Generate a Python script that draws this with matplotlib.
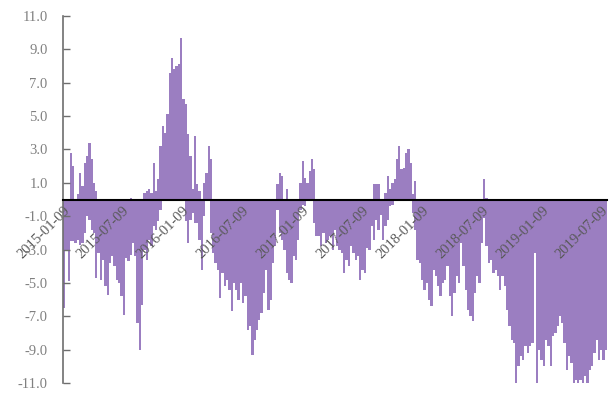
import numpy as np
import pandas as pd
import matplotlib
matplotlib.use("Agg")
import matplotlib.pyplot as plt
import matplotlib.dates as mdates

start_date = "2015-01-09"
tick_labels = ["2015-01-09", "2015-07-09", "2016-01-09", "2016-07-09", "2017-01-09",
               "2017-07-09", "2018-01-09", "2018-07-09", "2019-01-09", "2019-07-09"]
y_ticks = [-11, -9, -7, -5, -3, -1, 1, 3, 5, 7, 9, 11]

# weekly highest (positive) values
weekly_high = [
    0, 0, 0, 2.8, 2.0, 0, 0.3, 1.6, 0.8, 2.2,
    2.6, 3.4, 2.4, 1.0, 0.5, 0, 0, 0, 0, 0,
    0, 0, 0, 0, 0, 0, 0, 0, 0, 0.1,
    0, 0, 0, 0, 0, 0.4, 0.5, 0.6, 0.4, 2.2,
    0.5, 1.2, 3.2, 4.4, 4.0, 5.1, 7.6, 8.5, 7.8, 8.0,
    8.1, 9.7, 6.0, 5.7, 3.9, 2.6, 0.6, 3.8, 0.9, 0.5,
    0, 1.0, 1.6, 3.2, 2.4, 0, 0, 0, 0, 0,
    0, 0, 0, 0, 0, 0, 0, 0, 0, 0,
    0, 0, 0, 0, 0, 0, 0, 0, 0, 0,
    0, 0, 0, 0.9, 1.6, 1.4, 0, 0.6, 0, 0,
    0, 0, 0, 1.0, 2.3, 1.3, 1.0, 1.7, 2.4, 1.8,
    0, 0, 0, 0, 0, 0, 0, 0, 0, 0,
    0, 0, 0, 0, 0, 0, 0, 0, 0, 0,
    0, 0, 0, 0, 0, 0.9, 0.9, 0.9, 0, 0,
    0.4, 1.4, 0.6, 1.0, 1.2, 2.4, 3.2, 1.8, 1.9, 2.8,
    3.0, 2.2, 0.3, 1.1, 0, 0, 0, 0, 0, 0,
    0, 0, 0, 0, 0, 0, 0, 0, 0, 0,
    0, 0, 0, 0, 0, 0, 0, 0, 0, 0,
    0, 0, 0, 1.2, 0.1, 0, 0, 0, 0, 0,
    0, 0, 0, 0, 0, 0, 0, 0, 0, 0,
    0, 0, 0, 0, 0, 0, 0, 0, 0, 0,
    0, 0, 0, 0, 0, 0, 0, 0, 0, 0,
    0, 0, 0, 0, 0, 0, 0, 0, 0, 0,
    0, 0, 0, 0, 0, 0, 0,
]

# weekly lowest (negative) values
weekly_low = [
    -6.5, -3.1, -4.9, -2.5, -2.5, -2.6, -2.4, -2.7, -2.6, -2.0,
    -1.0, -1.2, -1.8, -2.0, -4.7, -3.2, -4.8, -3.6, -5.2, -5.7,
    -3.8, -3.4, -4.0, -4.8, -5.0, -5.8, -6.9, -3.5, -3.7, -3.3,
    -2.6, -3.4, -7.4, -9.0, -6.3, -3.0, -3.6, -2.4, -2.8, -1.6,
    -1.8, -1.3, -0.6, 0, 0, 0, 0, 0, 0, 0,
    0, 0, 0, -1.3, -2.6, -1.2, -0.8, -1.4, -1.4, -2.4,
    -4.2, -1.0, 0, 0, -2.0, -3.2, -3.8, -4.2, -5.9, -4.4,
    -5.2, -4.8, -5.4, -6.7, -5.0, -5.4, -6.0, -5.0, -6.2, -5.8,
    -7.8, -7.6, -9.3, -8.4, -7.8, -7.2, -6.8, -5.6, -4.2, -6.6,
    -6.0, -3.8, -2.8, -0.6, -2.0, -2.4, -3.0, -4.4, -4.8, -5.0,
    -3.4, -3.6, -2.4, -0.6, -0.3, -0.4, 0, 0, 0, -1.4,
    -2.2, -2.2, -2.8, -2.0, -2.6, -2.4, -2.2, -3.0, -1.8, -2.8,
    -3.0, -3.2, -4.4, -3.6, -4.0, -2.8, -3.2, -3.6, -3.4, -4.8,
    -4.2, -4.4, -2.9, -3.0, -1.6, -2.4, -1.2, -1.8, -0.9, -2.4,
    -1.6, -1.2, -0.4, -0.3, 0, 0, 0, 0, 0, 0,
    0, 0, -0.8, -1.8, -3.6, -3.8, -4.8, -5.4, -5.0, -6.0,
    -6.4, -4.2, -4.6, -5.2, -5.8, -5.0, -4.8, -4.0, -5.8, -7.0,
    -5.6, -4.6, -5.0, -2.6, -4.0, -5.4, -6.6, -7.0, -7.3, -5.6,
    -4.6, -5.0, -2.6, -1.1, -2.8, -3.8, -3.6, -4.4, -4.2, -4.6,
    -5.4, -4.6, -5.2, -6.6, -7.6, -8.4, -8.6, -11.0, -10.0, -9.4,
    -9.6, -8.8, -9.2, -8.8, -8.6, -3.2, -11.0, -9.0, -9.6, -10.0,
    -8.4, -8.8, -10.0, -8.2, -8.0, -7.6, -7.0, -7.4, -8.6, -10.2,
    -9.4, -9.8, -11.0, -10.8, -11.0, -10.8, -11.0, -10.6, -11.0, -10.2,
    -10.0, -9.2, -8.4, -9.6, -9.0, -9.6, -9.0,
]

n = len(weekly_low)
dates = pd.date_range(start_date, periods=n, freq="7D")
x = mdates.date2num(dates)

fig = plt.figure(figsize=(6.14, 4.03), dpi=100)
ax = fig.add_axes([63 / 614, 1 - 383 / 403, (607 - 63) / 614, (383 - 16) / 403])

# spine placement first (it resets tick objects)
for s in ["top", "right"]:
    ax.spines[s].set_visible(False)
ax.spines["bottom"].set_position(("data", 0))
ax.spines["left"].set_color("#6E6E6E")
ax.spines["left"].set_linewidth(1.2)
ax.spines["bottom"].set_color("black")
ax.spines["bottom"].set_linewidth(1.5)
ax.spines["bottom"].set_zorder(5)

bar_color = "#9B7EC1"
ax.bar(x, weekly_high, width=7.0, align="edge", color=bar_color, linewidth=0)
ax.bar(x, weekly_low, width=7.0, align="edge", color=bar_color, linewidth=0)

ax.set_xlim(x[0], x[-1] + 7.0)
ax.set_ylim(-11, 11)

serif = ["Liberation Serif", "DejaVu Serif"]
ax.set_yticks(y_ticks)
ax.set_yticklabels([f"{v:.1f}" for v in y_ticks], family=serif, fontsize=10.5, color="#808080")
ax.tick_params(axis="y", direction="in", length=5, width=1, color="#6E6E6E", pad=11)

tick_pos = mdates.date2num(pd.to_datetime(tick_labels))
ax.set_xticks(tick_pos)
ax.tick_params(axis="x", length=0, pad=3)
ax.set_xticklabels(tick_labels, family=serif, fontsize=10.5, color="#595959",
                   rotation=45, ha="right", va="top", rotation_mode="anchor")

fig.savefig("out.png", dpi=100)
